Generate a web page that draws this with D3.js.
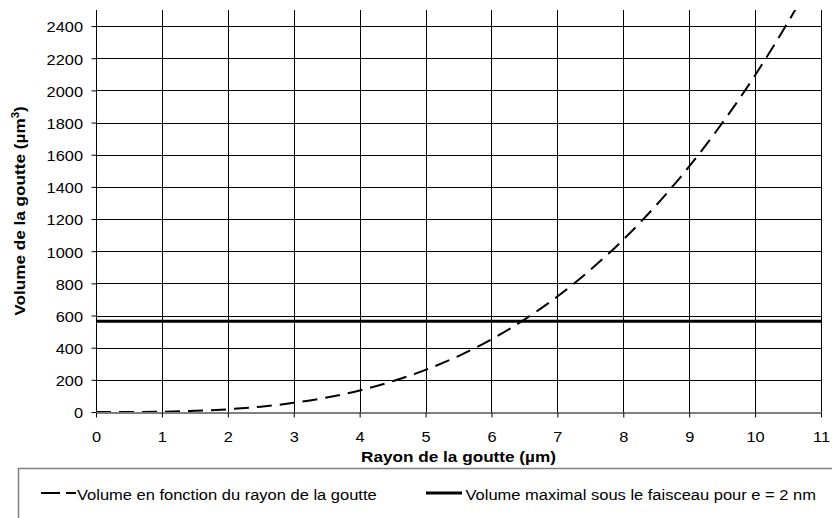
<!DOCTYPE html>
<html lang="fr">
<head>
<meta charset="UTF-8">
<title>Volume de la goutte</title>
<script src="https://d3js.org/d3.v7.min.js"></script>
<style>
  body { margin: 0; background: #fff; }
  text { font-family: "Liberation Sans", Arial, sans-serif; }
</style>
</head>
<body>
<svg width="832" height="518"></svg>
<script>
// rayon (µm) et volume (µm³)
const rayon = [0, 0.5, 1, 1.5, 2, 2.5, 3, 3.5, 4, 4.5, 5, 5.5, 6, 6.5, 7, 7.5, 8, 8.5, 9, 9.5, 10, 10.5, 10.7];
const volume = [0, 0.3, 2, 7, 17, 33, 57, 90, 134, 191, 262, 348, 452, 575, 718, 884, 1072, 1286, 1527, 1796, 2094, 2425, 2565];
const volumeMax = 565;
const xTicks = [0, 1, 2, 3, 4, 5, 6, 7, 8, 9, 10, 11];
const yTicks = [0, 200, 400, 600, 800, 1000, 1200, 1400, 1600, 1800, 2000, 2200, 2400];
const legendLabels = ["Volume en fonction du rayon de la goutte", "Volume maximal sous le faisceau pour e = 2 nm"];

const svg = d3.select("svg");
const margin = { left: 96, right: 11, top: 10, bottom: 106 };
const width = 832, height = 518;

// le texte du modèle est un peu étiré en largeur
const tickStretch = 1.17, titleStretch = 1.145, legStretch = 1.1;

const x = d3.scaleLinear().domain([0, 11]).range([margin.left, width - margin.right]);
const y = d3.scaleLinear().domain([0, 2500]).range([height - margin.bottom, margin.top]);

// grille
svg.append("g").selectAll("line")
    .data(yTicks.slice(1))
    .enter().append("line")
    .attr("x1", x(0)).attr("x2", x(11))
    .attr("y1", d => Math.round(y(d)) + 0.5).attr("y2", d => Math.round(y(d)) + 0.5)
    .attr("stroke", "#000").attr("stroke-width", 1);

svg.append("g").selectAll("line")
    .data(xTicks.slice(1))
    .enter().append("line")
    .attr("x1", d => Math.round(x(d)) + 0.5).attr("x2", d => Math.round(x(d)) + 0.5)
    .attr("y1", y(0)).attr("y2", y(2500))
    .attr("stroke", "#000").attr("stroke-width", 1);

// axes
const xAxis = svg.append("g")
    .attr("transform", `translate(0,${Math.round(y(0)) + 0.5})`)
    .call(d3.axisBottom(x).tickValues(xTicks).tickFormat(d3.format("d"))
        .tickSize(5).tickPadding(15).tickSizeOuter(0));
const yAxis = svg.append("g")
    .attr("transform", `translate(${Math.round(x(0)) + 0.5},0)`)
    .call(d3.axisLeft(y).tickValues(yTicks).tickFormat(d3.format("d"))
        .tickSize(5).tickPadding(4).tickSizeOuter(0));

[xAxis, yAxis].forEach(g => {
    g.selectAll("text").attr("font-size", 14).attr("fill", "#000")
        .attr("font-family", "'Liberation Sans', Arial, sans-serif")
        .attr("transform", `scale(${tickStretch},1)`);
    g.select(".domain").attr("stroke", "#000");
    g.selectAll(".tick line").attr("stroke", "#000");
});
yAxis.selectAll("text").attr("x", -13.5 / tickStretch).attr("dy", "0.42em");
yAxis.select(".domain").attr("d", `M0,${y(0)}V${y(2500)}`);

// titres
svg.append("text")
    .attr("transform", `translate(${x(5.5)},462) scale(${titleStretch},1)`)
    .attr("text-anchor", "middle")
    .attr("font-size", 15).attr("font-weight", "bold")
    .text("Rayon de la goutte (µm)");

const yTitle = svg.append("text")
    .attr("transform", `translate(25,${y(1250)}) rotate(-90) scale(${titleStretch},1)`)
    .attr("text-anchor", "middle")
    .attr("font-size", 15).attr("font-weight", "bold");
yTitle.append("tspan").text("Volume de la goutte (µm");
yTitle.append("tspan").attr("font-size", 10).attr("dy", -6).text("3");
yTitle.append("tspan").attr("dy", 6).text(")");

// séries
svg.append("clipPath").attr("id", "clip")
    .append("rect")
    .attr("x", x(0)).attr("y", y(2500))
    .attr("width", x(11) - x(0)).attr("height", y(0) - y(2500));

const line = d3.line()
    .x((d, i) => x(rayon[i]))
    .y(d => y(d))
    .curve(d3.curveMonotoneX);

svg.append("path")
    .datum(volume)
    .attr("clip-path", "url(#clip)")
    .attr("d", line)
    .attr("fill", "none")
    .attr("stroke", "#000")
    .attr("stroke-width", 2)
    .attr("stroke-dasharray", "15,8");

svg.append("line")
    .attr("x1", x(0)).attr("x2", x(11))
    .attr("y1", y(volumeMax)).attr("y2", y(volumeMax))
    .attr("stroke", "#000")
    .attr("stroke-width", 3);

// légende
svg.append("rect")
    .attr("x", 18.5).attr("y", 468.5)
    .attr("width", 830).attr("height", 80)
    .attr("fill", "none")
    .attr("stroke", "#808080")
    .attr("stroke-width", 1.5);

const leg = svg.append("g");
leg.append("line")
    .attr("x1", 41).attr("x2", 76).attr("y1", 493).attr("y2", 493)
    .attr("stroke", "#000").attr("stroke-width", 2).attr("stroke-dasharray", "19,6");
leg.append("text")
    .attr("transform", `translate(77,500) scale(${legStretch},1)`)
    .attr("font-size", 15)
    .text(legendLabels[0]);
leg.append("line")
    .attr("x1", 426).attr("x2", 462).attr("y1", 493).attr("y2", 493)
    .attr("stroke", "#000").attr("stroke-width", 3);
leg.append("text")
    .attr("transform", `translate(465.5,500) scale(${legStretch},1)`)
    .attr("font-size", 15)
    .text(legendLabels[1]);
</script>
</body>
</html>
